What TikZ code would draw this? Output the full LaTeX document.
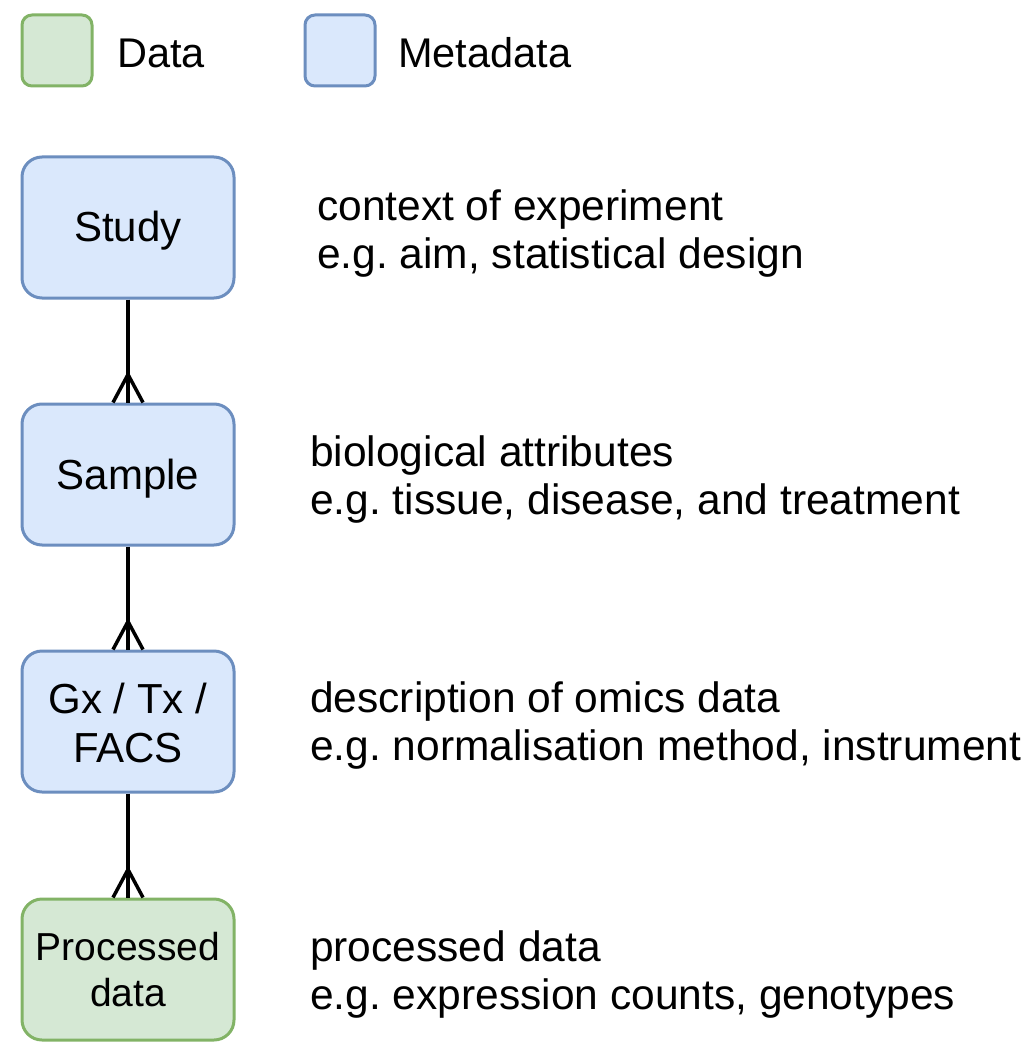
\documentclass[tikz,border=0pt]{standalone}
\usepackage{fontspec}
\setmainfont{Liberation Sans}
\frenchspacing
\definecolor{datafill}{HTML}{D5E8D4}
\definecolor{datadraw}{HTML}{82B366}
\definecolor{metafill}{HTML}{DAE8FC}
\definecolor{metadraw}{HTML}{6C8EBF}
\newcommand{\lowered}[2]{\raisebox{-#1}[0pt][0pt]{\begin{tabular}[b]{@{}c@{}}#2\end{tabular}}}
\begin{document}
\begin{tikzpicture}[x=1pt,y=-1pt,
  box/.style={rounded corners=20pt, line width=3pt, minimum width=212pt, minimum height=141pt, inner sep=0pt, align=center, font=\fontsize{42}{49}\selectfont},
  metabox/.style={box, fill=metafill, draw=metadraw},
  databox/.style={box, fill=datafill, draw=datadraw},
  legbox/.style={rounded corners=10pt, line width=3pt, minimum width=70pt, minimum height=71pt, inner sep=0pt},
  desc/.style={anchor=west, align=left, inner sep=0pt, font=\fontsize{42.5}{48}\selectfont},
  legtext/.style={anchor=west, inner sep=0pt, font=\fontsize{41.5}{47}\selectfont},
  conn/.style={line width=3.5pt, black}]
\useasboundingbox (0,0) rectangle (1030,1056);
% legend
\node[legbox, fill=datafill, draw=datadraw] (legdata) at (57,50.5) {};
\node[legtext] (legdatatext) at (117,53) {Data};
\node[legbox, fill=metafill, draw=metadraw] (legmeta) at (340,50.5) {};
\node[legtext] (legmetatext) at (398,53) {Metadata};
% boxes
\node[metabox] (study) at (128,227.5) {\lowered{14.5pt}{Study}};
\node[metabox] (sample) at (128,474.5) {\lowered{14.5pt}{Sample}};
\node[metabox] (gx) at (128,721.5) {\lowered{40.5pt}{Gx / Tx /\\FACS}};
\node[databox, font=\fontsize{39}{46}\selectfont] (proc) at (128,969.5) {\lowered{36.5pt}{Processed\\data}};
% descriptions
\node[desc] (d1) at (317,234) {context of experiment\\e.g. aim, statistical design};
\node[desc] (d2) at (310,480) {biological attributes\\e.g. tissue, disease, and treatment};
\node[desc] (d3) at (310,726) {description of omics data\\e.g. normalisation method, instrument};
\node[desc] (d4) at (310,974) {processed data\\e.g. expression counts, genotypes};
% connectors with crow's feet
\foreach \a/\b in {study/sample, sample/gx, gx/proc}{
  \draw[conn] (\a.south) -- (\b.north);
  \draw[conn] ([xshift=-15pt]\b.north) -- ([yshift=28pt]\b.north) -- ([xshift=15pt]\b.north);
}
\end{tikzpicture}
\end{document}
